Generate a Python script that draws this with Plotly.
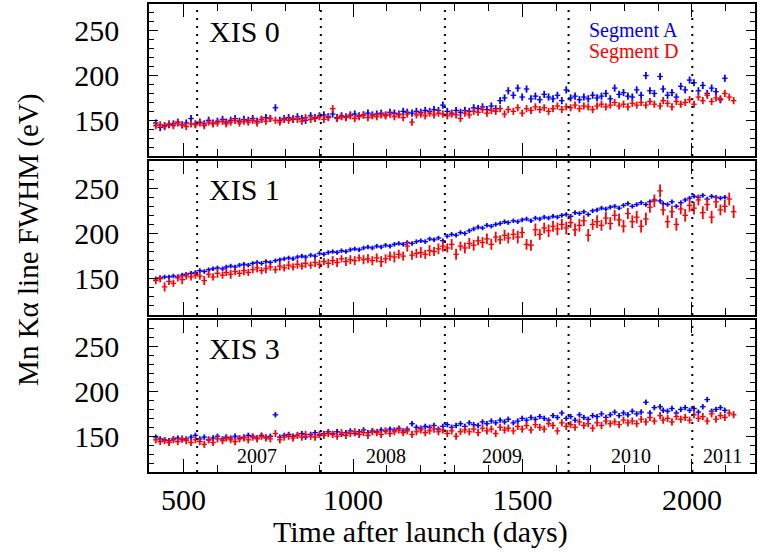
import plotly.graph_objects as go
from plotly.subplots import make_subplots

# Observation epochs (days after launch)
days = [
    418, 431, 444, 457, 470, 483, 496, 508, 522, 535,
    548, 561, 574, 587, 600, 615, 626, 639, 652, 665,
    678, 691, 704, 717, 730, 743, 756, 771, 784, 797,
    810, 823, 836, 849, 860, 875, 888, 901, 914, 927,
    940, 953, 966, 979, 992, 1005, 1018, 1031, 1044, 1057,
    1070, 1083, 1096, 1109, 1122, 1135, 1148, 1160, 1174, 1187,
    1200, 1213, 1226, 1239, 1252, 1265, 1278, 1291, 1304, 1317,
    1330, 1343, 1356, 1369, 1382, 1395, 1408, 1421, 1434, 1447,
    1458, 1473, 1486, 1499, 1512, 1525, 1538, 1551, 1564, 1577,
    1590, 1603, 1616, 1629, 1642, 1655, 1668, 1681, 1694, 1707,
    1720, 1733, 1746, 1759, 1772, 1785, 1798, 1811, 1824, 1837,
    1850, 1864, 1876, 1889, 1906, 1915, 1928, 1941, 1954, 1967,
    1980, 1993, 2006, 2019, 2032, 2045, 2058, 2071, 2084, 2097,
    2110, 2123,
]

# XIS 0 line width (eV)
xis0_seg_a = [
    147, 142, 144, 145, 146, 148, 145, 147, 152, 146,
    148, 146, 150, 147, 149, 151, 148, 150, 152, 149,
    151, 150, 152, 149, 151, 153, 152, 164, 150, 152,
    153, 151, 154, 152, 150, 155, 153, 155, 156, 154,
    157, 153, 155, 154, 156, 157, 155, 156, 158, 156,
    157, 158, 156, 159, 158, 157, 160, 159, 158, 160,
    159, 161, 160, 162, 161, 167, 160, 158, 161, 159,
    161, 160, 164, 163, 165, 162, 166, 163, 172, 175,
    183, 178, 186, 176, 185, 174, 177, 173, 179, 176,
    174, 178, 172, 184, 175, 177, 173, 176, 174, 178,
    175, 177, 180, 174, 186, 179, 181, 177, 176, 184,
    178, 200, 183, 180, 199, 185, 178, 181, 176, 188,
    184, 195, 192, 183, 189, 180, 186, 182, 173, 197,
    None, None,
]
xis0_seg_d = [
    144, 145, 143, 146, 144, 147, 145, 143, 146, 145,
    147, 144, 148, 146, 147, 149, 146, 148, 150, 147,
    149, 148, 150, 147, 151, 149, 152, 150, 148, 151,
    150, 152, 151, 149, 153, 151, 152, 154, 151, 153,
    163, 152, 154, 153, 155, 152, 154, 156, 153, 155,
    154, 156, 155, 157, 154, 156, 153, 157, 148, 156,
    157, 155, 158, 156, 158, 157, 155, 157, 156, 152,
    158, 156, 160, 159, 162, 158, 161, 160, 163, 157,
    162, 160, 164, 158, 163, 161, 165, 162, 164, 160,
    163, 166, 162, 165, 164, 167, 163, 166, 165, 162,
    166, 168, 165, 167, 170, 166, 168, 165, 169, 167,
    170, 167, 171, 168, 166, 172, 169, 165, 171, 168,
    170, 173, 168, 176, 172, 178, 171, 175, 174, 180,
    176, 172,
]

# XIS 1 line width (eV)
xis1_seg_a = [
    150, 151, 152, 152, 153, 152, 154, 155, 156, 157,
    159, 158, 160, 161, 162, 161, 163, 164, 163, 165,
    166, 165, 167, 168, 167, 169, 168, 170, 171, 172,
    173, 172, 174, 175, 174, 176, 175, 178, 177, 179,
    180, 179, 181, 180, 182, 183, 182, 184, 185, 184,
    186, 185, 187, 186, 188, 189, 188, 190, 189, 191,
    192, 191, 194, 193, 195, 192, 197, 199, 198, 201,
    200, 203, 205, 207, 206, 209, 208, 210, 211, 213,
    212, 214, 213, 215, 216, 214, 217, 216, 218, 217,
    219, 218, 220, 221, 219, 223, 222, 224, 221, 225,
    226, 228, 227, 229, 230, 228, 231, 233, 230, 232,
    234, 232, 235, 237, 236, 233, 232, 235, 230, 234,
    237, 239, 241, 240, 242, 238, 241, 240, 239, 240,
    None, None,
]
xis1_seg_d = [
    148, 150, 141, 147, 145, 151, 149, 153, 152, 154,
    153, 148, 155, 152, 156, 154, 157, 155, 158, 156,
    159, 157, 160, 162, 159, 161, 163, 160, 164, 162,
    165, 163, 166, 164, 167, 165, 168, 166, 169, 167,
    170, 168, 172, 169, 171, 170, 173, 171, 172, 170,
    173, 169, 172, 175, 174, 177, 175, 186, 176, 178,
    179, 177, 181, 180, 183, 186, 184, 188, 177, 186,
    184, 189, 187, 192, 190, 194, 188, 196, 193, 198,
    195, 199, 196, 201, 188, 187, 204, 199, 206, 203,
    208, 205, 210, 206, 212, 204, 209, 214, 198, 210,
    213, 209, 217, 211, 220, 215, 208, 222, 213, 218,
    208, 216, 229, 236, 247, 226, 213, 224, 210, 227,
    220, 231, 228, 237, 223, 232, 218, 235, 226, 230,
    238, 224,
]
xis1_seg_d_err = [
    4, 4, 5, 4, 4, 4, 5, 4, 4, 4,
    4, 5, 4, 4, 5, 4, 4, 5, 4, 4,
    5, 4, 4, 5, 4, 5, 4, 4, 5, 4,
    5, 4, 5, 4, 5, 4, 5, 5, 4, 5,
    5, 5, 4, 5, 5, 5, 4, 5, 5, 5,
    5, 6, 5, 5, 6, 5, 5, 6, 5, 5,
    6, 5, 6, 5, 6, 6, 5, 6, 6, 5,
    6, 6, 6, 5, 6, 6, 6, 6, 5, 6,
    6, 6, 7, 6, 6, 6, 7, 6, 6, 7,
    6, 7, 6, 7, 6, 7, 7, 6, 7, 6,
    7, 6, 7, 7, 6, 7, 7, 6, 7, 7,
    7, 7, 6, 7, 7, 6, 7, 7, 7, 6,
    7, 7, 7, 6, 7, 7, 7, 7, 6, 7,
    7, 7,
]

# XIS 3 line width (eV)
xis3_seg_a = [
    149, 147, 146, 145, 147, 148, 146, 147, 149, 151,
    147, 149, 146, 148, 150, 147, 149, 148, 150, 148,
    149, 151, 150, 148, 151, 149, 150, 174, 149, 151,
    152, 150, 151, 153, 149, 152, 154, 151, 153, 155,
    153, 155, 152, 154, 156, 153, 155, 157, 154, 156,
    155, 157, 156, 158, 157, 159, 156, 158, 164, 160,
    159, 161, 160, 162, 158, 161, 163, 160, 162, 164,
    161, 165, 163, 162, 166, 164, 167, 165, 168, 166,
    169, 165, 167, 170, 168, 171, 169, 172, 170, 168,
    173, 171, 176, 170, 172, 168, 174, 171, 169, 173,
    172, 175, 171, 174, 177, 173, 176, 174, 178, 175,
    177, 188, 176, 182, 183, 179, 178, 181, 176, 180,
    182, 179, 181, 177, 183, 191, 178, 180, 182, 179,
    None, None,
]
xis3_seg_d = [
    146, 144, 145, 143, 146, 144, 147, 145, 143, 146,
    144, 141, 146, 143, 147, 145, 148, 146, 144, 147,
    148, 146, 149, 147, 150, 148, 147, 153, 146, 149,
    150, 148, 151, 149, 152, 150, 149, 152, 151, 153,
    152, 150, 154, 151, 153, 155, 152, 154, 151, 155,
    154, 152, 156, 153, 155, 157, 154, 156, 152, 155,
    157, 154, 156, 158, 155, 157, 153, 156, 150, 155,
    157, 155, 158, 154, 159, 156, 158, 153, 160, 157,
    159, 156, 161, 158, 162, 157, 163, 160, 158, 164,
    162, 156, 165, 161, 163, 160, 166, 162, 164, 159,
    165, 162, 167, 164, 166, 163, 168, 165, 167, 164,
    169, 166, 171, 167, 173, 168, 170, 166, 172, 169,
    171, 168, 174, 170, 172, 167, 175, 169, 173, 171,
    176, 174,
]

# Typical 1-sigma errors (eV)
err_xis0_a = 4
err_xis0_d = 4
err_xis1_a = 2.5
err_xis3_a = 3
err_xis3_d = 4

sensor_names = ["XIS 0", "XIS 1", "XIS 3"]
segment_names = ["Segment A", "Segment D"]
year_starts = [540, 905, 1271, 1636, 2001]
year_labels = ["2007", "2008", "2009", "2010", "2011"]
year_label_days = [716, 1096, 1439, 1821, 2091]
y_ticks = [150, 200, 250]

BLUE = "#0000ff"
RED = "#ff0000"
FONT = "Liberation Serif"

W, H = 758, 552
L, R, T, B = 149, 1, 4, 80
PW, PH = W - L - R, H - T - B


def px(xp):
    return (xp - L) / PW


def py(yp):
    return (H - B - yp) / PH


fig = make_subplots(rows=3, cols=1)

panels = [
    (xis0_seg_a, err_xis0_a, xis0_seg_d, err_xis0_d),
    (xis1_seg_a, err_xis1_a, xis1_seg_d, xis1_seg_d_err),
    (xis3_seg_a, err_xis3_a, xis3_seg_d, err_xis3_d),
]


def err_spec(err, color):
    spec = dict(visible=True, color=color, thickness=1.8, width=0)
    if isinstance(err, list):
        spec.update(type="data", array=err)
    else:
        spec.update(type="constant", value=err)
    return spec


for i, (seg_a, e_a, seg_d, e_d) in enumerate(panels, start=1):
    for vals, err, color, name in ((seg_a, e_a, BLUE, segment_names[0]),
                                   (seg_d, e_d, RED, segment_names[1])):
        fig.add_trace(
            go.Scatter(
                x=days, y=vals, mode="markers", name=name, showlegend=False,
                marker=dict(symbol="line-ew", size=4, color=color,
                            line=dict(color=color, width=1.3)),
                error_y=err_spec(err, color),
            ),
            row=i, col=1,
        )

domains = [[0.675, 1.0], [0.3355, 0.6645], [0.0, 0.3248]]

axis_common = dict(
    showline=True, linecolor="black", linewidth=1.5, mirror="allticks",
    ticks="inside", showgrid=False, zeroline=False,
    tickcolor="black", tickwidth=1.3,
    tickfont=dict(family=FONT, size=30, color="black"),
)

for i in range(1, 4):
    xa = "xaxis" if i == 1 else f"xaxis{i}"
    ya = "yaxis" if i == 1 else f"yaxis{i}"
    fig.layout[xa].update(
        range=[398, 2186], tick0=0, dtick=500, ticklen=13,
        minor=dict(dtick=100, ticklen=7, ticks="inside", tickcolor="black",
                   tickwidth=1.3, showgrid=False),
        showticklabels=(i == 3), ticklabelstandoff=0,
        **axis_common,
    )
    fig.layout[ya].update(
        range=[110, 280], tickvals=y_ticks, ticklen=9, domain=domains[i - 1],
        minor=dict(dtick=10, ticklen=5, ticks="inside", tickcolor="black",
                   tickwidth=1.3, showgrid=False),
        ticklabelstandoff=22,
        **axis_common,
    )
    xref = "x" if i == 1 else f"x{i}"
    yref = "y domain" if i == 1 else f"y{i} domain"
    for d in year_starts:
        fig.add_shape(type="line", xref=xref, yref=yref, x0=d, x1=d, y0=0, y1=1,
                      line=dict(color="black", width=2, dash="2px,6px"), layer="above")

annotations = []
label_y = [31.5, 189, 348]
for name, yp in zip(sensor_names, label_y):
    annotations.append(dict(
        text=name, x=px(207), y=py(yp), xref="paper", yref="paper",
        xanchor="left", yanchor="middle", showarrow=False,
        font=dict(family=FONT, size=30, color="black"),
    ))

annotations.append(dict(text=segment_names[0], x=px(588), y=py(30), xref="paper", yref="paper",
                        xanchor="left", yanchor="middle", showarrow=False,
                        font=dict(family=FONT, size=20, color=BLUE)))
annotations.append(dict(text=segment_names[1], x=px(588), y=py(52), xref="paper", yref="paper",
                        xanchor="left", yanchor="middle", showarrow=False,
                        font=dict(family=FONT, size=20, color=RED)))

for lab, d in zip(year_labels, year_label_days):
    annotations.append(dict(text=lab, x=d, y=py(456), xref="x3", yref="paper",
                            xanchor="center", yanchor="middle", showarrow=False,
                            font=dict(family=FONT, size=20, color="black")))

annotations.append(dict(text="Mn Kα line FWHM (eV)", x=px(27.5), y=py(240),
                        xref="paper", yref="paper", textangle=-90,
                        xanchor="center", yanchor="middle", showarrow=False,
                        font=dict(family=FONT, size=29, color="black")))
annotations.append(dict(text="Time after launch (days)", x=px(421), y=py(532),
                        xref="paper", yref="paper",
                        xanchor="center", yanchor="middle", showarrow=False,
                        font=dict(family=FONT, size=30, color="black")))

fig.update_layout(
    width=W, height=H,
    margin=dict(l=L, r=R, t=T, b=B, pad=0),
    paper_bgcolor="white", plot_bgcolor="white",
    annotations=annotations,
    font=dict(family=FONT, color="black"),
)

fig.write_html("out.html")
